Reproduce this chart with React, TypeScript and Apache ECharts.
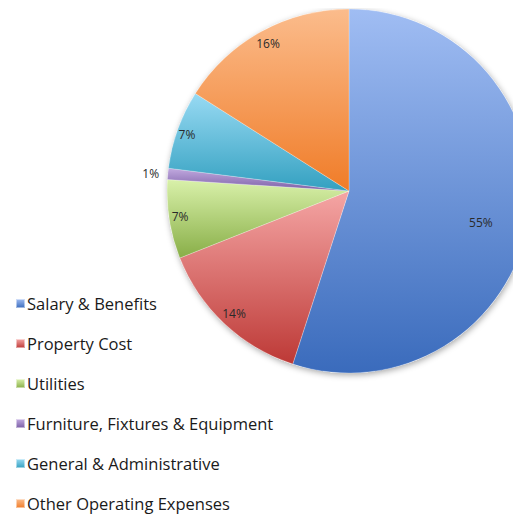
import React, { useEffect, useRef } from "react";
import * as echarts from "echarts";

const categories = [
  "Salary & Benefits",
  "Property Cost",
  "Utilities",
  "Furniture, Fixtures & Equipment",
  "General & Administrative",
  "Other Operating Expenses",
];
const values = [55, 14, 7, 1, 7, 16];
const topColors = ["#A0BDF3", "#F5A6A5", "#D9F1AA", "#C2AAE0", "#98DAF3", "#FBBC8C"];
const bottomColors = ["#3A6BBC", "#BD3936", "#88AE47", "#7A5EA5", "#33A0C0", "#F07C28"];
const labelOffsets: [number, number][] = [[-34, 5], [0, 0], [-3, -1], [-31, -2], [-4, 0], [0, 0]];

function grad(i: number) {
  return new echarts.graphic.LinearGradient(0, 0, 0, 1, [
    { offset: 0, color: topColors[i] },
    { offset: 1, color: bottomColors[i] },
  ]);
}

export default function App() {
  const ref = useRef<HTMLDivElement>(null);
  useEffect(() => {
    if (!ref.current) return;
    const chart = echarts.init(ref.current, null, { renderer: "svg" });
    const center = [341, 183];
    chart.setOption({
      animation: false,
      legend: {
        orient: "vertical",
        left: 2,
        top: 282,
        height: 228,
        itemWidth: 9,
        itemHeight: 9,
        itemGap: 23,
        icon: "rect",
        textStyle: {
          fontFamily: "Open Sans",
          fontSize: 16.5,
          color: "#1a1a1a",
          lineHeight: 17,
          padding: [0, 0, 0, -3],
        },
        data: categories.map((c, i) => ({ name: c, itemStyle: { color: grad(i) } })),
      },
      series: [
        {
          type: "pie",
          silent: true,
          center,
          radius: 182,
          z: 1,
          label: { show: false },
          labelLine: { show: false },
          data: [
            {
              value: 1,
              name: "__bg",
              itemStyle: {
                color: "#ffffff",
                shadowBlur: 6,
                shadowColor: "rgba(0,0,0,0.35)",
                shadowOffsetX: 1,
                shadowOffsetY: 2,
              },
            },
          ],
        },
        {
          type: "pie",
          center,
          radius: 182,
          startAngle: 90,
          clockwise: true,
          z: 2,
          label: { show: false },
          labelLine: { show: false },
          itemStyle: { borderColor: "rgba(255,255,255,0.5)", borderWidth: 0.5 },
          data: categories.map((c, i) => ({
            name: c,
            value: values[i],
            itemStyle: { color: grad(i) },
          })),
        },
        {
          type: "pie",
          silent: true,
          center,
          radius: [148, 182],
          startAngle: 90,
          clockwise: true,
          z: 3,
          labelLine: { show: false },
          label: {
            show: true,
            position: "inside",
            formatter: "{d}%",
            fontFamily: "Open Sans",
            fontSize: 12,
            color: "#2a2a2a",
          },
          itemStyle: { color: "rgba(0,0,0,0)" },
          data: categories.map((c, i) => ({
            name: c,
            value: values[i],
            label: { offset: labelOffsets[i] },
          })),
        },
      ],
    });
    return () => chart.dispose();
  }, []);
  return <div ref={ref} style={{ width: 513, height: 510 }} />;
}
